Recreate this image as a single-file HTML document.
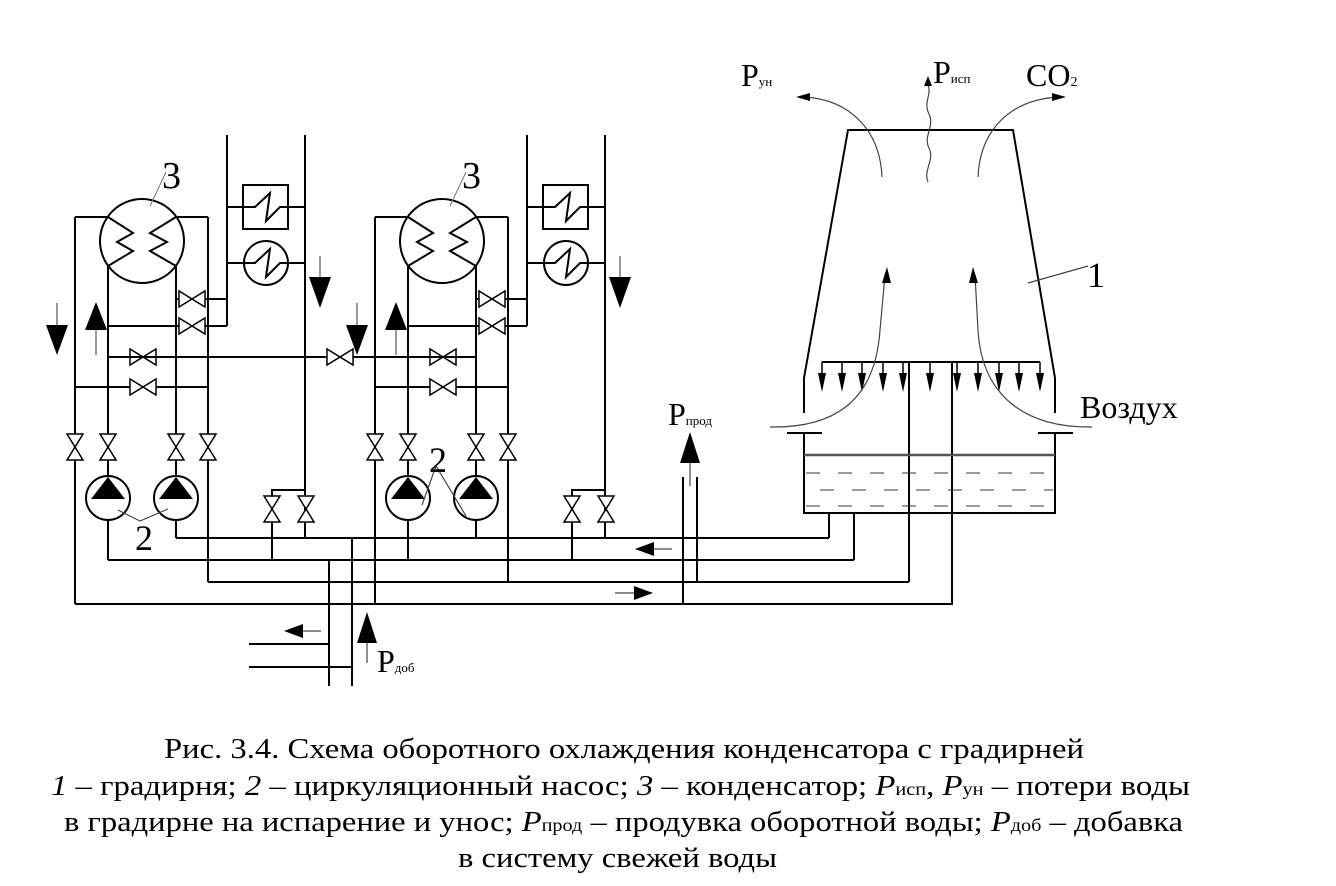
<!DOCTYPE html>
<html><head><meta charset="utf-8"><style>html,body{margin:0;padding:0;background:#fff}svg{display:block}</style></head>
<body>
<svg width="1336" height="886" viewBox="0 0 1336 886" xmlns="http://www.w3.org/2000/svg" font-family="'Liberation Serif', serif">
<defs>
<g id="unit" stroke="#000" stroke-width="2" fill="none">
  <line x1="75" y1="217" x2="75" y2="604"/>
  <line x1="108" y1="266" x2="108" y2="560"/>
  <line x1="176" y1="266" x2="176" y2="538"/>
  <line x1="208" y1="217" x2="208" y2="582"/>
  <line x1="75" y1="217" x2="108" y2="217"/>
  <line x1="176" y1="217" x2="208" y2="217"/>
  <circle cx="142" cy="241" r="42" fill="#fff"/>
  <polyline points="108,217 133,233 117,242 133,251 108,266"/>
  <polyline points="176,217 150,233 167,242 150,251 176,266"/>
  <line x1="176" y1="299" x2="227" y2="299"/>
  <line x1="108" y1="326" x2="227" y2="326"/>
  <line x1="227" y1="135" x2="227" y2="326"/>
  <line x1="305" y1="135" x2="305" y2="538"/>
  <line x1="227" y1="207" x2="305" y2="207"/>
  <line x1="227" y1="263" x2="305" y2="263"/>
  <rect x="243" y="185" width="45" height="44" fill="#fff"/>
  <polyline points="243,207 255,207 270,193 266,221 280,207 288,207"/>
  <circle cx="266" cy="263" r="22" fill="#fff"/>
  <polyline points="244,263 255,263 270,249 266,277 280,263 288,263"/>
  <line x1="75" y1="387" x2="208" y2="387"/>
  <g fill="#fff" stroke-width="1.5">
    <polygon points="179,291 179,307 205,291 205,307"/>
    <polygon points="179,318 179,334 205,318 205,334"/>
    <polygon points="130,349 130,365 156,349 156,365"/>
    <polygon points="130,379 130,395 156,379 156,395"/>
    <polygon points="67,434 83,434 67,460 83,460"/>
    <polygon points="100,434 116,434 100,460 116,460"/>
    <polygon points="168,434 184,434 168,460 184,460"/>
    <polygon points="200,434 216,434 200,460 216,460"/>
    <polygon points="264,496 280,496 264,522 280,522"/>
    <polygon points="298,496 314,496 298,522 314,522"/>
  </g>
  <polyline points="272,496 272,490 305,490"/>
  <line x1="272" y1="522" x2="272" y2="560"/>
  <circle cx="108" cy="498" r="22" fill="#fff"/>
  <circle cx="176" cy="498" r="22" fill="#fff"/>
  <polygon points="108,477 125,499 91,499" fill="#000" stroke="none"/>
  <polygon points="176,477 193,499 159,499" fill="#000" stroke="none"/>
  <line x1="57" y1="303" x2="57" y2="326" stroke="#777" stroke-width="1.5"/>
  <polygon points="46,325 68,325 57,355" fill="#000" stroke="none"/>
  <line x1="96" y1="330" x2="96" y2="355" stroke="#777" stroke-width="1.5"/>
  <polygon points="85,330 107,330 96,302" fill="#000" stroke="none"/>
  <line x1="320" y1="256" x2="320" y2="278" stroke="#777" stroke-width="1.5"/>
  <polygon points="309,277 331,277 320,308" fill="#000" stroke="none"/>
  <line x1="150" y1="206" x2="166" y2="172" stroke="#777" stroke-width="1"/>
  <text x="162" y="188" font-size="38" fill="#000" stroke="none">3</text>
</g>
</defs>
<use href="#unit"/>
<use href="#unit" transform="translate(300,0)"/>
<g stroke="#000" stroke-width="2" fill="none">
  <line x1="108" y1="357" x2="476" y2="357"/>
  <polygon points="327,349 327,365 353,349 353,365" fill="#fff" stroke-width="1.5"/>
  <line x1="176" y1="538" x2="829" y2="538"/>
  <line x1="108" y1="560" x2="854" y2="560"/>
  <line x1="208" y1="582" x2="909" y2="582"/>
  <line x1="75" y1="604" x2="953" y2="604"/>
  <line x1="829" y1="513" x2="829" y2="538"/>
  <line x1="854" y1="513" x2="854" y2="560"/>
  <line x1="909" y1="362" x2="909" y2="582"/>
  <line x1="952" y1="362" x2="952" y2="604"/>
  <line x1="329" y1="560" x2="329" y2="686"/>
  <line x1="352" y1="538" x2="352" y2="686"/>
  <line x1="249" y1="644" x2="329" y2="644"/>
  <line x1="249" y1="667" x2="352" y2="667"/>
  <line x1="683" y1="477" x2="683" y2="604"/>
  <line x1="697" y1="477" x2="697" y2="582"/>
  <polyline points="804,413 804,378 848,130 1013,130 1055,378 1055,413"/>
  <polyline points="804,433 804,513 1055,513 1055,433"/>
  <line x1="787" y1="433" x2="822" y2="433"/>
  <line x1="1038" y1="433" x2="1073" y2="433"/>
  <line x1="804" y1="455" x2="1055" y2="455" stroke="#555" stroke-width="2.5"/>
  <g stroke="#333" stroke-width="1" stroke-dasharray="14,18">
    <line x1="806" y1="473" x2="1053" y2="473"/>
    <line x1="820" y1="490" x2="1053" y2="490"/>
    <line x1="806" y1="506" x2="1053" y2="506"/>
  </g>
  <line x1="822" y1="362" x2="1040" y2="362"/>
  <g stroke-width="1.5">
    <line x1="822" y1="362" x2="822" y2="378"/><line x1="842" y1="362" x2="842" y2="378"/>
    <line x1="862" y1="362" x2="862" y2="378"/><line x1="883" y1="362" x2="883" y2="378"/>
    <line x1="903" y1="362" x2="903" y2="378"/><line x1="930" y1="362" x2="930" y2="378"/>
    <line x1="957" y1="362" x2="957" y2="378"/><line x1="978" y1="362" x2="978" y2="378"/>
    <line x1="999" y1="362" x2="999" y2="378"/><line x1="1019" y1="362" x2="1019" y2="378"/>
    <line x1="1040" y1="362" x2="1040" y2="378"/>
  </g>
  <g fill="#000" stroke="none">
    <polygon points="818,373 826,373 822,392"/><polygon points="838,373 846,373 842,392"/>
    <polygon points="858,373 866,373 862,392"/><polygon points="879,373 887,373 883,392"/>
    <polygon points="899,373 907,373 903,392"/><polygon points="926,373 934,373 930,392"/>
    <polygon points="953,373 961,373 957,392"/><polygon points="974,373 982,373 978,392"/>
    <polygon points="995,373 1003,373 999,392"/><polygon points="1015,373 1023,373 1019,392"/>
    <polygon points="1036,373 1044,373 1040,392"/>
  </g>
  <g stroke="#444" stroke-width="1.2">
    <path d="M770,427 C830,428 875,405 880,330 L885,275"/>
    <path d="M1092,427 C1030,428 982,400 978,330 L975,275"/>
    <path d="M882,177 C880,130 850,100 805,97"/>
    <path d="M978,177 C980,130 1010,100 1058,97"/>
    <path d="M928,182 C923,170 935,160 929,148 C923,136 935,126 929,114 C923,102 932,95 928,85"/>
    <line x1="1028" y1="283" x2="1088" y2="266"/>
    <polyline points="118,510 140,521 168,509"/>
    <polyline points="422,505 436,466 466,516"/>
    <line x1="690" y1="462" x2="690" y2="486"/>
    <line x1="367" y1="640" x2="367" y2="663"/>
    <line x1="301" y1="631" x2="321" y2="631"/>
    <line x1="652" y1="549" x2="672" y2="549"/>
    <line x1="615" y1="593" x2="635" y2="593"/>
  </g>
  <g fill="#000" stroke="none">
    <polygon points="887,267 882,283 891,283"/>
    <polygon points="973,267 969,283 978,283"/>
    <polygon points="796,97 810,93 810,101"/>
    <polygon points="1066,97 1052,93 1052,101"/>
    <polygon points="928,76 924,86 932,86"/>
    <polygon points="690,432 680,463 700,463"/>
    <polygon points="367,612 357,643 377,643"/>
    <polygon points="284,631 303,624 303,638"/>
    <polygon points="635,549 654,542 654,556"/>
    <polygon points="653,593 634,586 634,600"/>
  </g>
</g>
<g fill="#000" font-size="36">
  <text x="135" y="550">2</text>
  <text x="429" y="472">2</text>
  <text x="1087" y="287">1</text>
  <text x="668" y="425" font-size="32">P<tspan font-size="13">прод</tspan></text>
  <text x="377" y="672" font-size="32">P<tspan font-size="13">доб</tspan></text>
  <text x="741" y="86" font-size="32">P<tspan font-size="13">ун</tspan></text>
  <text x="933" y="83" font-size="32">P<tspan font-size="13">исп</tspan></text>
  <text x="1026" y="86" font-size="32">CO<tspan font-size="14">2</tspan></text>
  <text x="1080" y="418" font-size="32">Воздух</text>
</g>
<g fill="#000" font-size="29">
  <text x="164" y="758" textLength="920" lengthAdjust="spacingAndGlyphs">Рис. 3.4. Схема оборотного охлаждения конденсатора с градирней</text>
  <text x="51" y="795" textLength="1139" lengthAdjust="spacingAndGlyphs"><tspan font-style="italic">1</tspan> – градирня; <tspan font-style="italic">2</tspan> – циркуляционный насос; <tspan font-style="italic">3</tspan> – конденсатор; <tspan font-style="italic">P</tspan><tspan font-size="18">исп</tspan>, <tspan font-style="italic">P</tspan><tspan font-size="18">ун</tspan> – потери воды</text>
  <text x="64" y="831" textLength="1119" lengthAdjust="spacingAndGlyphs">в градирне на испарение и унос; <tspan font-style="italic">P</tspan><tspan font-size="18">прод</tspan> – продувка оборотной воды; <tspan font-style="italic">P</tspan><tspan font-size="18">доб</tspan> – добавка</text>
  <text x="458" y="867" textLength="319" lengthAdjust="spacingAndGlyphs">в систему свежей воды</text>
</g>
</svg>
</body></html>
